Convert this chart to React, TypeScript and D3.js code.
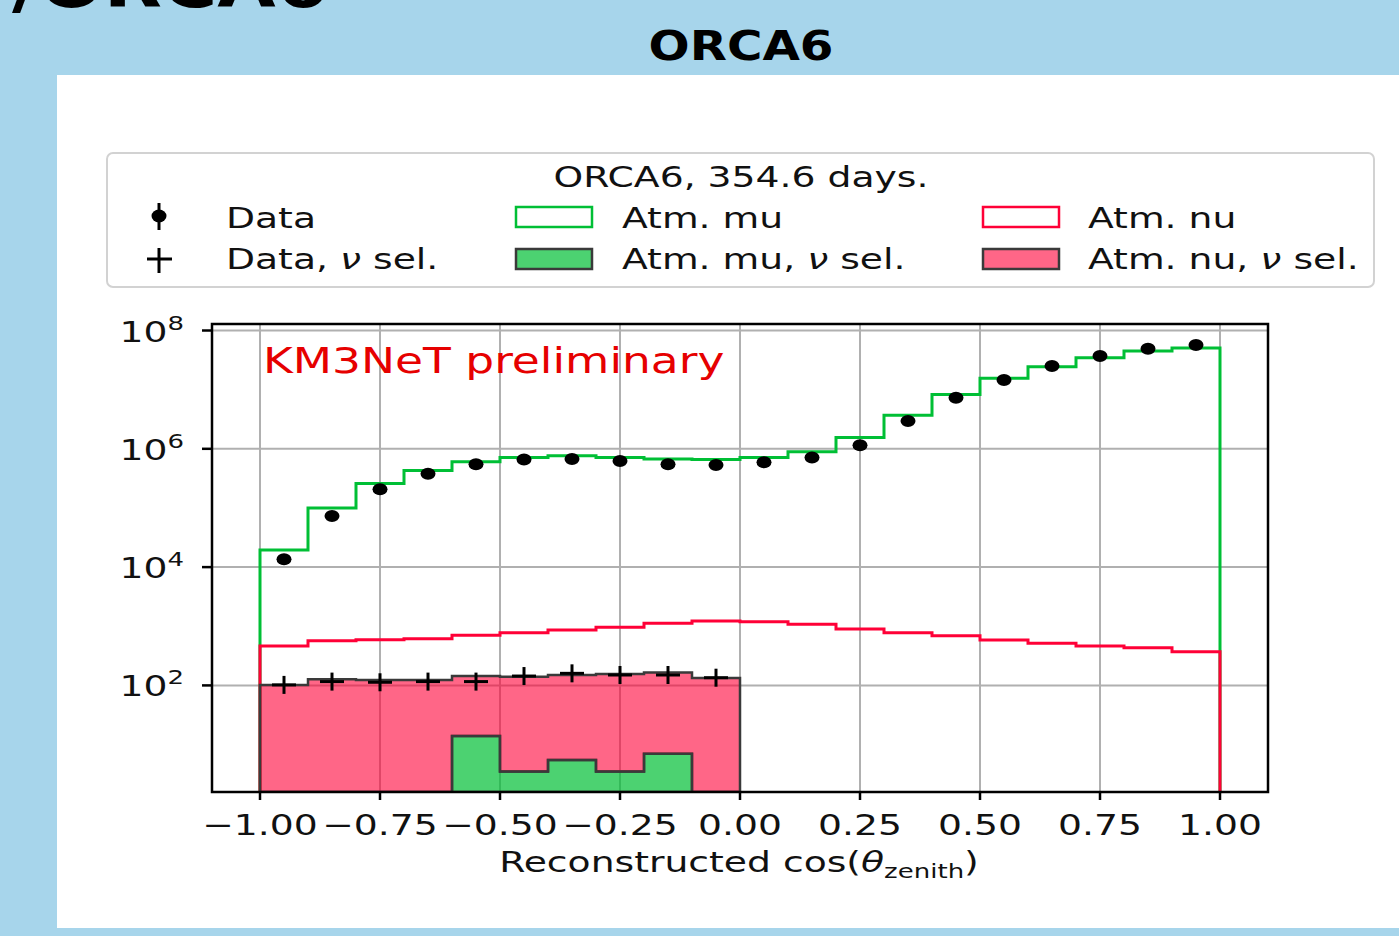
import React from "react";
import * as d3 from "d3";

// ---------- data ----------
const binEdges = [-1.0, -0.9, -0.8, -0.7, -0.6, -0.5, -0.4, -0.3, -0.2, -0.1, 0.0, 0.1, 0.2, 0.3, 0.4, 0.5, 0.6, 0.7, 0.8, 0.9, 1.0];
const atmMu = [1.95e4, 1.0e5, 2.6e5, 4.3e5, 6.05e5, 7.1e5, 7.6e5, 7.1e5, 6.7e5, 6.6e5, 7.1e5, 8.9e5, 1.56e6, 3.7e6, 8.3e6, 1.56e7, 2.44e7, 3.47e7, 4.5e7, 5.06e7];
const atmNu = [463, 570, 593, 617, 703, 778, 865, 960, 1122, 1227, 1194, 1079, 899, 778, 692, 585, 515, 463, 434, 371];
const dataAll = [1.36e4, 7.3e4, 2.07e5, 3.8e5, 5.5e5, 6.6e5, 6.7e5, 6.2e5, 5.5e5, 5.3e5, 5.9e5, 7.1e5, 1.15e6, 2.95e6, 7.3e6, 1.46e7, 2.51e7, 3.71e7, 4.92e7, 5.69e7];
const selEdges = [-1.0, -0.9, -0.8, -0.7, -0.6, -0.5, -0.4, -0.3, -0.2, -0.1, 0.0];
const dataNuSel = [102, 116, 113, 116, 116, 144, 160, 150, 150, 135];
const atmMuNuSel = [0, 0, 0, 0, 14, 3.5, 5.5, 3.5, 7, 0];
const atmNuNuSel = [102, 127, 123, 123, 130, 137, 145, 153, 159, 133];
const xTicks = [-1, -0.75, -0.5, -0.25, 0, 0.25, 0.5, 0.75, 1];
const yTickExps = [2, 4, 6, 8];

const pageTitle = "ORCA6";
const cutTitle = "/ORCA6";
const legendTitle = "ORCA6, 354.6 days.";
const watermark = "KM3NeT preliminary";

// ---------- style ----------
const FONT = "DejaVu Sans";
const SX = 1.3;
const FS = 29;
const GREEN = "#00bf35";
const RED = "#ff0037";
const EDGE = "#3a3a3a";
const BG = "#a7d5eb";

const PL = 212, PR = 1268, PT = 324, PB = 792;
const Y_MIN = Math.pow(10, 0.198);
const Y_MAX = Math.pow(10, 8.11);

const x = d3.scaleLinear().domain([-1.1, 1.1]).range([PL, PR]);
const y = d3.scaleLog().domain([Y_MIN, Y_MAX]).range([PB, PT]);
const yv = (v: number) => y(Math.max(v, Y_MIN));

type P = [number, number];
function stepPts(edges: number[], vals: number[]): P[] {
  const pts: P[] = [[edges[0], 0]];
  vals.forEach((v, i) => {
    pts.push([edges[i], v], [edges[i + 1], v]);
  });
  pts.push([edges[edges.length - 1], 0]);
  return pts;
}
const stepLine = d3.line<P>().x((d) => x(d[0])).y((d) => yv(d[1]));

type A = { e: number; b: number; t: number };
function areaPts(edges: number[], bottoms: number[], tops: number[]): A[] {
  const pts: A[] = [];
  tops.forEach((t, i) => {
    pts.push({ e: edges[i], b: bottoms[i], t }, { e: edges[i + 1], b: bottoms[i], t });
  });
  return pts;
}
const stepArea = d3
  .area<A>()
  .x((d) => x(d.e))
  .y0((d) => yv(d.b))
  .y1((d) => yv(d.t));

function T(props: {
  x: number;
  y: number;
  sx?: number;
  size?: number;
  anchor?: string;
  fill?: string;
  weight?: string | number;
  children: React.ReactNode;
}) {
  const { x: tx, y: ty, sx = SX, size = FS, anchor = "start", fill = "#111", weight = "normal", children } = props;
  return (
    <text
      transform={`translate(${tx},${ty}) scale(${sx},1)`}
      fontFamily={FONT}
      fontSize={size}
      textAnchor={anchor as any}
      fill={fill}
      fontWeight={weight as any}
    >
      {children}
    </text>
  );
}

export default function App() {
  const centers = binEdges.slice(0, -1).map((e, i) => (e + binEdges[i + 1]) / 2);
  const selCenters = selEdges.slice(0, -1).map((e, i) => (e + selEdges[i + 1]) / 2);
  const zeros = atmMuNuSel.map(() => 0);
  const pinkTops = atmNuNuSel.map((v, i) => v + atmMuNuSel[i]);

  return (
    <svg
      width={1399}
      height={936}
      style={{ position: "absolute", left: 0, top: 0, display: "block" }}
      xmlns="http://www.w3.org/2000/svg"
    >
      <defs>
        <clipPath id="plotClip">
          <rect x={PL} y={PT} width={PR - PL} height={PB - PT} />
        </clipPath>
      </defs>
      <rect x={0} y={0} width={1399} height={936} fill={BG} />
      {/* cut-off heading */}
      <T x={12} y={7} sx={1.18} size={64} weight="bold" fill="#000">
        {cutTitle}
      </T>
      <T x={741} y={60} sx={1.18} size={41} weight="bold" fill="#000" anchor="middle">
        {pageTitle}
      </T>
      {/* white panel */}
      <rect x={57} y={75} width={1342} height={853} fill="#ffffff" />

      {/* legend */}
      <rect x={107} y={153} width={1267} height={134} rx={6} fill="#fff" stroke="#d2d2d2" strokeWidth={2} />
      <T x={741} y={187} anchor="middle">{legendTitle}</T>
      {/* Data handle */}
      <line x1={159} x2={159} y1={203} y2={230} stroke="#000" strokeWidth={3} />
      <ellipse cx={159} cy={216} rx={7.5} ry={6.5} fill="#000" />
      <T x={226} y={228}>Data</T>
      {/* Data nu sel handle */}
      <line x1={147} x2={172} y1={259} y2={259} stroke="#000" strokeWidth={3} />
      <line x1={159} x2={159} y1={248} y2={273} stroke="#000" strokeWidth={3} />
      <T x={226} y={269}>
        Data, <tspan fontStyle="italic">ν</tspan> sel.
      </T>
      {/* Atm mu */}
      <rect x={516} y={207} width={76} height={20} fill="#fff" stroke={GREEN} strokeWidth={2.5} />
      <T x={622} y={228}>Atm. mu</T>
      <rect x={516} y={249} width={76} height={20} fill={GREEN} fillOpacity={0.7} stroke={EDGE} strokeWidth={2.5} />
      <T x={622} y={269}>
        Atm. mu, <tspan fontStyle="italic">ν</tspan> sel.
      </T>
      {/* Atm nu */}
      <rect x={983} y={207} width={76} height={20} fill="#fff" stroke={RED} strokeWidth={2.5} />
      <T x={1088} y={228}>Atm. nu</T>
      <rect x={983} y={249} width={76} height={20} fill={RED} fillOpacity={0.6} stroke={EDGE} strokeWidth={2.5} />
      <T x={1088} y={269}>
        Atm. nu, <tspan fontStyle="italic">ν</tspan> sel.
      </T>

      {/* grid */}
      <g stroke="#b0b0b0" strokeWidth={2}>
        {xTicks.map((t) => (
          <line key={"gx" + t} x1={x(t)} x2={x(t)} y1={PT} y2={PB} />
        ))}
        {yTickExps.map((e) => (
          <line key={"gy" + e} x1={PL} x2={PR} y1={y(Math.pow(10, e))} y2={y(Math.pow(10, e))} />
        ))}
      </g>

      <g clipPath="url(#plotClip)">
        {/* atm mu step */}
        <path d={stepLine(stepPts(binEdges, atmMu)) || ""} fill="none" stroke={GREEN} strokeWidth={3} />
        {/* atm nu step */}
        <path d={stepLine(stepPts(binEdges, atmNu)) || ""} fill="none" stroke={RED} strokeWidth={3} />
        {/* atm mu nu sel filled */}
        <path
          d={stepArea(areaPts(selEdges, zeros, atmMuNuSel)) || ""}
          fill={GREEN}
          fillOpacity={0.7}
          stroke={EDGE}
          strokeWidth={2.5}
        />
        {/* atm nu nu sel filled (stacked) */}
        <path
          d={stepArea(areaPts(selEdges, atmMuNuSel, pinkTops)) || ""}
          fill={RED}
          fillOpacity={0.6}
          stroke={EDGE}
          strokeWidth={2.5}
        />
        {/* data points */}
        {dataAll.map((v, i) => (
          <ellipse key={"d" + i} cx={x(centers[i])} cy={y(v)} rx={7.5} ry={6} fill="#000" />
        ))}
        {/* data nu sel crosses */}
        {dataNuSel.map((v, i) => (
          <g key={"c" + i} stroke="#000" strokeWidth={3}>
            <line x1={x(selCenters[i]) - 12} x2={x(selCenters[i]) + 12} y1={y(v)} y2={y(v)} />
            <line x1={x(selCenters[i])} x2={x(selCenters[i])} y1={y(v) - 9} y2={y(v) + 9} />
          </g>
        ))}
      </g>

      <T x={263} y={373} size={35} fill="#e60000">{watermark}</T>

      {/* spines */}
      <rect x={PL} y={PT} width={PR - PL} height={PB - PT} fill="none" stroke="#000" strokeWidth={2.5} />

      {/* x ticks */}
      {xTicks.map((t) => (
        <g key={"xt" + t}>
          <line x1={x(t)} x2={x(t)} y1={PB} y2={PB + 8} stroke="#000" strokeWidth={2.5} />
          <T x={x(t)} y={835} anchor="middle">
            {(t < 0 ? "\u2212" : "") + Math.abs(t).toFixed(2)}
          </T>
        </g>
      ))}
      {/* y ticks */}
      {yTickExps.map((e) => (
        <g key={"yt" + e}>
          <line x1={PL - 10} x2={PL} y1={y(Math.pow(10, e))} y2={y(Math.pow(10, e))} stroke="#000" strokeWidth={2.5} />
          <T x={184} y={y(Math.pow(10, e)) + 11} anchor="end">
            10
            <tspan fontSize={20} dy={-12}>
              {String(e)}
            </tspan>
          </T>
        </g>
      ))}
      {/* x label */}
      <T x={739} y={872} anchor="middle">
        Reconstructed cos(<tspan fontStyle="italic">θ</tspan>
        <tspan fontSize={20} dy={6}>
          zenith
        </tspan>
        <tspan dy={-6}>)</tspan>
      </T>
    </svg>
  );
}
